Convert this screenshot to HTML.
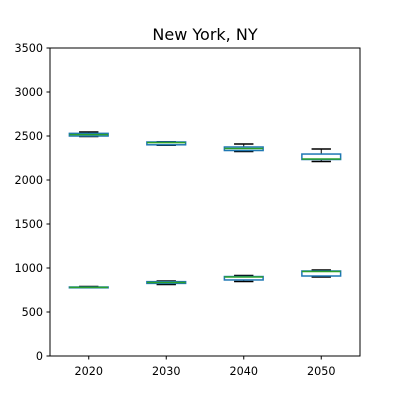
<!DOCTYPE html>
<html><head><meta charset="utf-8"><style>body{margin:0;background:#fff}svg{display:block;font-family:"DejaVu Sans","Liberation Sans",sans-serif}</style></head>
<body>
<svg id="c" width="400" height="400">
<rect x="0" y="0" width="400" height="400" fill="#fff"/>
<text x="205" y="40" text-anchor="middle" font-size="16">New York, NY</text>
</svg>
<script>
const categories = ["2020","2030","2040","2050"];
// each stat: [whislo, q1, med, q3, whishi]
const upperSeries = [[2495,2500,2515,2530,2545],[2395,2400,2425,2432,2435],[2324,2335,2358,2375,2409],[2210,2233,2238,2295,2352]];
const lowerSeries = [[775,775,780,784,790],[812,825,835,845,852],[847,864,898,903,915],[898,909,960,966,977]];
const yTicks = [0,500,1000,1500,2000,2500,3000,3500];
const L=50,R=360,T=48,B=356,YMAX=3500;
const svg=document.getElementById('c');
const NS='http://www.w3.org/2000/svg';
const yS=v=>B-(v/YMAX)*(B-T);
const xS=i=>L+(i+0.5)/categories.length*(R-L);
function mk(tag,attrs,parent){const e=document.createElementNS(NS,tag);for(const k in attrs)e.setAttribute(k,attrs[k]);(parent||svg).appendChild(e);return e;}
const step=(R-L)/categories.length, bw=step*0.5, cw=bw*0.5;
function drawBox(s,i,grp){
  const g=mk('g',{});
  
  
  const x=xS(i);
  mk('line',{x1:x,x2:x,y1:yS(s[3]),y2:yS(s[4]),stroke:'#000','stroke-width':1},g);
  mk('line',{x1:x,x2:x,y1:yS(s[1]),y2:yS(s[0]),stroke:'#000','stroke-width':1},g);
  mk('line',{x1:x-cw/2,x2:x+cw/2,y1:yS(s[4]),y2:yS(s[4]),stroke:'#000','stroke-width':1.5},g);
  mk('line',{x1:x-cw/2,x2:x+cw/2,y1:yS(s[0]),y2:yS(s[0]),stroke:'#000','stroke-width':1.5},g);
  mk('rect',{x:x-bw/2,y:yS(s[3]),width:bw,height:Math.max(yS(s[1])-yS(s[3]),0.5),fill:'none',stroke:'#1f77b4','stroke-width':1.5},g);
  mk('line',{x1:x-bw/2,x2:x+bw/2,y1:yS(s[2]),y2:yS(s[2]),stroke:'#2ca02c','stroke-width':1.5},g);
}
upperSeries.forEach((s,i)=>drawBox(s,i,'upper'));
lowerSeries.forEach((s,i)=>drawBox(s,i,'lower'));
const frame=mk('rect',{x:L,y:T,width:R-L,height:B-T,fill:'none',stroke:'#000','stroke-width':1});


yTicks.forEach(v=>{
  const y=yS(v);
  mk('line',{x1:L-3.5,x2:L,y1:y,y2:y,stroke:'#000'});
  const t=mk('text',{x:L-7,y:y+4,'text-anchor':'end','font-size':11.2});
  t.textContent=v;
  
  
});
categories.forEach((c,i)=>{
  const x=xS(i);
  mk('line',{x1:x,x2:x,y1:B,y2:B+3.5,stroke:'#000'});
  const t=mk('text',{x:x,y:B+19,'text-anchor':'middle','font-size':11.2});
  t.textContent=c;
  
  
});
</script>
</body></html>
